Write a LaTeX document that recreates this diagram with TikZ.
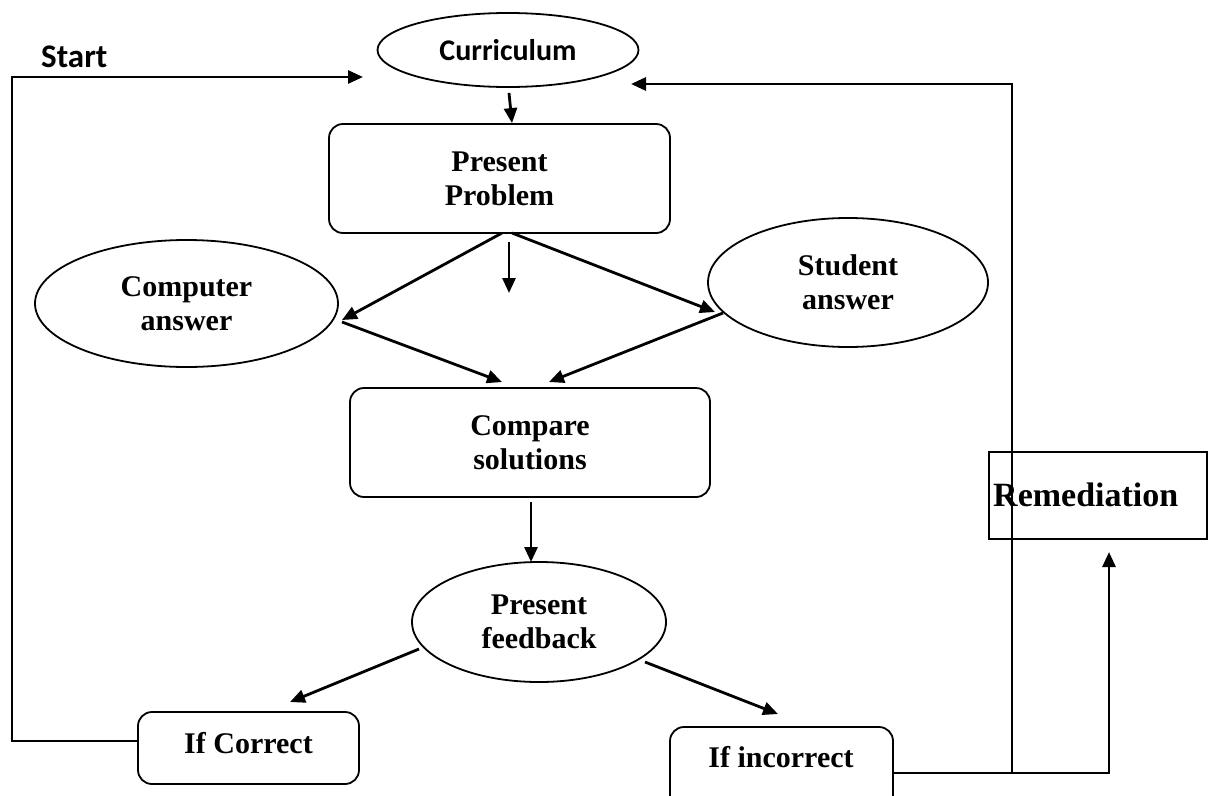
\documentclass[tikz,border=0pt]{standalone}
\usepackage{fontspec}
\setmainfont{Liberation Serif}
\newfontfamily\calfont{Carlito}
\usetikzlibrary{arrows.meta,shapes.geometric}
\begin{document}
\begin{tikzpicture}[x=1pt,y=-1pt,
  conn/.style={line width=2.8pt},
  arr/.style={conn,-{Triangle[length=15pt,width=13pt]}},
  ell/.style={ellipse,draw,line width=1.8pt,inner sep=0pt},
  rbox/.style={draw,rounded corners=14pt,line width=1.8pt,inner sep=0pt},
  txt/.style={font=\fontsize{30}{34}\selectfont\bfseries,align=center}
]
\useasboundingbox (0,0) rectangle (1209,795);
\clip (0,0) rectangle (1209,795);

\node[font=\calfont\fontsize{33}{38}\selectfont\bfseries,anchor=base west,inner sep=0pt] (start) at (41,67) {Start};
\node[ell,minimum width=261pt,minimum height=74pt,font=\calfont\fontsize{30}{34}\selectfont\bfseries] (cur) at (508,50) {Curriculum};
\node[rbox,txt,minimum width=341pt,minimum height=109pt] (pp) at (499.5,178.5) {Present\\Problem};
\node[ell,txt,minimum width=303pt,minimum height=127pt] (ca) at (186.5,303.5) {Computer\\answer};
\node[ell,txt,minimum width=280pt,minimum height=129pt] (sa) at (848,282.5) {Student\\answer};
\node[rbox,txt,minimum width=360pt,minimum height=109pt] (cs) at (530,442.5) {Compare\\solutions};
\node[ell,txt,minimum width=254pt,minimum height=120pt] (pf) at (539,622) {Present\\feedback};
\node[rbox,minimum width=221pt,minimum height=72pt] (ifc) at (248.5,748) {};
\node[txt] (ifct) at (248.5,743) {If Correct};
\node[rbox,minimum width=223pt,minimum height=92pt] (ifi) at (781.5,773) {};
\node[txt] (ifit) at (781,757) {If incorrect};
\node[draw,line width=1.5pt,minimum width=218pt,minimum height=87pt,inner sep=0pt] (rem) at (1098,495.5) {};
\node[font=\fontsize{34}{38}\selectfont\bfseries,anchor=base west,inner sep=0pt] (remt) at (993,506) {Remediation};

\coordinate (pps1) at (502,233);
\coordinate (pps2) at (512,233);
\coordinate (catip) at (342,320);
\coordinate (satip) at (715,312);
\coordinate (mid1) at (509,242);
\coordinate (mid2) at (509,293);
\coordinate (caout) at (342,322);
\coordinate (saout) at (723,313);
\coordinate (cstip1) at (502,382);
\coordinate (cstip2) at (549,382);
\coordinate (csout) at (531,502);
\coordinate (pftip) at (531,562);
\coordinate (pfl) at (419,649);
\coordinate (pfr) at (645,662);
\coordinate (ifctip) at (290,702);
\coordinate (ifitip) at (778,714);
\coordinate (j) at (1012,773);
\coordinate (rtip) at (631,84);
\coordinate (remtip) at (1109,552);
\coordinate (stip) at (363,77);

\draw[arr] ([shift={(1,5)}]cur.south) -- ([xshift=12.5pt]pp.north);
\draw[arr] (pps1) -- (catip);
\draw[arr] (pps2) -- (satip);
\draw[arr] (mid1) -- (mid2);
\draw[arr] (caout) -- (cstip1);
\draw[arr] (saout) -- (cstip2);
\draw[arr] (csout) -- (pftip);
\draw[arr] (pfl) -- (ifctip);
\draw[arr] (pfr) -- (ifitip);
\draw[arr] ([yshift=7pt]ifc.west) -| (12,77) -- (stip);
\draw[conn] (ifi.east) -- (j);
\draw[arr] (j) -- (1012,84) -- (rtip);
\draw[arr] (j) -| (remtip);
\end{tikzpicture}
\end{document}
